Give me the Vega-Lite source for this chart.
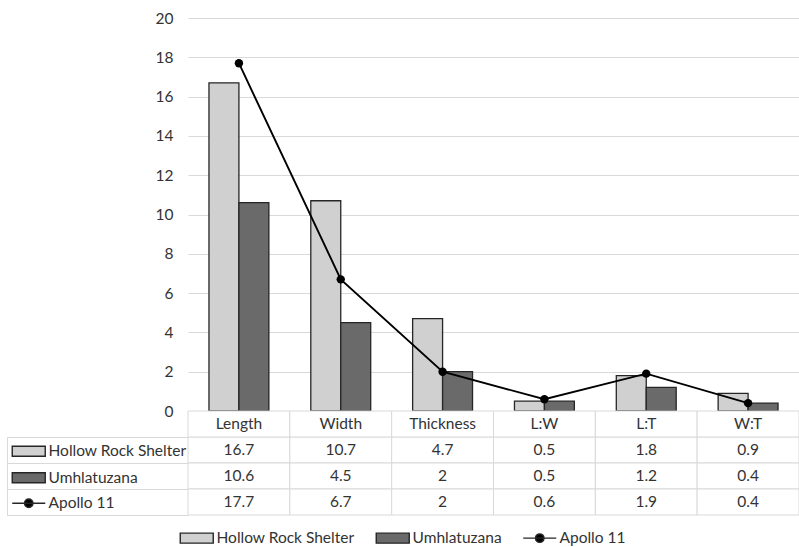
{
  "$schema": "https://vega.github.io/schema/vega-lite/v6.json",
  "autosize": {"type": "pad"},
  "padding": {"left": 6, "top": 11, "right": 0, "bottom": 0},
  "background": "white",
  "config": {"view": {"stroke": null}, "font": "Lato", "concat": {"spacing": 0}, "axisY": {"labelOverlap": false}},
  "datasets": {
    "vals": [
      {"cat": "Length", "series": "Hollow Rock Shelter", "value": 16.7},
      {"cat": "Length", "series": "Umhlatuzana", "value": 10.6},
      {"cat": "Length", "series": "Apollo 11", "value": 17.7},
      {"cat": "Width", "series": "Hollow Rock Shelter", "value": 10.7},
      {"cat": "Width", "series": "Umhlatuzana", "value": 4.5},
      {"cat": "Width", "series": "Apollo 11", "value": 6.7},
      {"cat": "Thickness", "series": "Hollow Rock Shelter", "value": 4.7},
      {"cat": "Thickness", "series": "Umhlatuzana", "value": 2},
      {"cat": "Thickness", "series": "Apollo 11", "value": 2},
      {"cat": "L:W", "series": "Hollow Rock Shelter", "value": 0.5},
      {"cat": "L:W", "series": "Umhlatuzana", "value": 0.5},
      {"cat": "L:W", "series": "Apollo 11", "value": 0.6},
      {"cat": "L:T", "series": "Hollow Rock Shelter", "value": 1.8},
      {"cat": "L:T", "series": "Umhlatuzana", "value": 1.2},
      {"cat": "L:T", "series": "Apollo 11", "value": 1.9},
      {"cat": "W:T", "series": "Hollow Rock Shelter", "value": 0.9},
      {"cat": "W:T", "series": "Umhlatuzana", "value": 0.4},
      {"cat": "W:T", "series": "Apollo 11", "value": 0.4}
    ],
    "cats": [
      {"cat": "Length"}, {"cat": "Width"}, {"cat": "Thickness"},
      {"cat": "L:W"}, {"cat": "L:T"}, {"cat": "W:T"}
    ]
  },
  "bounds": "flush",
  "resolve": {"scale": {"color": "independent"}, "legend": {"color": "independent"}},
  "vconcat": [
    {
      "width": 611,
      "height": 393,
      "data": {"name": "vals"},
      "resolve": {"scale": {"color": "independent"}},
      "encoding": {
        "x": {"field": "cat", "type": "nominal", "sort": ["Length", "Width", "Thickness", "L:W", "L:T", "W:T"],
              "scale": {"paddingInner": 0, "paddingOuter": 0}, "axis": null},
        "y": {"field": "value", "type": "quantitative",
              "scale": {"domain": [0, 20], "nice": false},
              "axis": {"values": [0, 2, 4, 6, 8, 10, 12, 14, 16, 18, 20], "grid": true, "gridColor": "#d9d9d9",
                       "domain": false, "ticks": false, "labelPadding": 15, "labelFont": "Lato", "labelOverlap": false,
                       "labelFontSize": 15.5, "labelColor": "#333333", "title": null}}
      },
      "layer": [
        {
          "transform": [{"filter": "datum.series !== 'Apollo 11'"}],
          "mark": {"type": "bar", "stroke": "#262626", "strokeWidth": 1.3},
          "encoding": {
            "xOffset": {"field": "series", "type": "nominal", "sort": ["Hollow Rock Shelter", "Umhlatuzana"],
                        "scale": {"paddingInner": 0, "paddingOuter": 0.7}},
            "color": {"field": "series", "type": "nominal",
                      "scale": {"domain": ["Hollow Rock Shelter", "Umhlatuzana"], "range": ["#d0d0d0", "#6a6a6a"]},
                      "legend": null}
          }
        },
        {
          "transform": [{"filter": "datum.series === 'Apollo 11'"}],
          "mark": {"type": "line", "color": "#000000", "strokeWidth": 1.9}
        },
        {
          "transform": [{"filter": "datum.series === 'Apollo 11'"}],
          "mark": {"type": "point", "filled": true, "color": "#000000", "size": 70, "opacity": 1}
        },
        {
          "mark": {"type": "point", "filled": true, "size": 0, "opacity": 0},
          "encoding": {
            "color": {"field": "series", "type": "nominal",
                      "scale": {"domain": ["Hollow Rock Shelter", "Umhlatuzana", "Apollo 11"], "range": ["#d0d0d0", "#6a6a6a", "#000000"]},
                      "legend": {"orient": "none", "legendX": 1, "legendY": 512, "direction": "horizontal", "title": null,
                                 "symbolSize": 100, "labelOffset": 12, "columnPadding": 18, "padding": 0,
                                 "labelFont": "Lato", "labelFontSize": 15.5, "labelColor": "#333333",
                                 "encode": {"symbols": {"update": {
                                   "shape": {"signal": "datum.value === 'Apollo 11' ? 'M-3.3,0H3.3M0.85,0A0.85,0.85 0 1,1 -0.85,0A0.85,0.85 0 1,1 0.85,0Z' : 'M-3.3,-1H3.3V1H-3.3Z'"},
                                   "size": {"value": 100},
                                   "fill": {"signal": "datum.value === 'Hollow Rock Shelter' ? '#d0d0d0' : datum.value === 'Umhlatuzana' ? '#6a6a6a' : '#000000'"},
                                   "stroke": {"value": "#262626"},
                                   "strokeWidth": {"value": 1.4},
                                   "opacity": {"value": 1}, "fillOpacity": {"value": 1}, "strokeOpacity": {"value": 1}
                                 }}}}}
          }
        }
      ]
    },
    {
      "width": 611,
      "height": 104,
      "encoding": {
        "x": {"field": "cat", "type": "nominal", "sort": ["Length", "Width", "Thickness", "L:W", "L:T", "W:T"],
              "scale": {"paddingInner": 0, "paddingOuter": 0}, "axis": null}
      },
      "layer": [
        {
          "data": {"name": "vals"},
          "mark": {"type": "rect", "fill": "white", "stroke": "#d9d9d9", "strokeWidth": 1},
          "encoding": {
            "y": {"field": "series", "type": "nominal",
                  "scale": {"domain": ["Header", "Hollow Rock Shelter", "Umhlatuzana", "Apollo 11"], "paddingInner": 0, "paddingOuter": 0},
                  "axis": {"orient": "left", "offset": 181, "labels": false, "title": null, "ticks": true, "tickSize": -181,
                           "tickColor": "#d9d9d9", "bandPosition": 1, "domainColor": "#d9d9d9", "domainDash": [0, 26, 78, 0], "grid": false}}
          }
        },
        {
          "data": {"name": "cats"},
          "mark": {"type": "rect", "fill": "white", "stroke": "#d9d9d9", "strokeWidth": 1},
          "encoding": {"y": {"datum": "Header", "type": "nominal"}}
        },
        {
          "data": {"name": "vals"},
          "mark": {"type": "text", "font": "Lato", "fontSize": 15.5, "color": "#333333"},
          "encoding": {
            "y": {"field": "series", "type": "nominal"},
            "text": {"field": "value", "type": "nominal"}
          }
        },
        {
          "data": {"name": "cats"},
          "mark": {"type": "text", "font": "Lato", "fontSize": 15.5, "color": "#333333"},
          "encoding": {
            "y": {"datum": "Header", "type": "nominal"},
            "text": {"field": "cat", "type": "nominal"}
          }
        },
        {
          "data": {"name": "vals"},
          "mark": {"type": "point", "filled": true, "size": 0, "opacity": 0},
          "encoding": {
            "color": {"field": "series", "type": "nominal",
                      "scale": {"domain": ["Hollow Rock Shelter", "Umhlatuzana", "Apollo 11"], "range": ["#d0d0d0", "#6a6a6a", "#000000"]},
                      "legend": {"orient": "none", "legendX": -167, "legendY": 32.5, "direction": "vertical", "title": null,
                                 "symbolSize": 100, "labelOffset": 12, "rowPadding": 8.5, "padding": 0,
                                 "labelFont": "Lato", "labelFontSize": 15.5, "labelColor": "#333333",
                                 "encode": {"symbols": {"update": {
                                   "shape": {"signal": "datum.value === 'Apollo 11' ? 'M-3.3,0H3.3M0.85,0A0.85,0.85 0 1,1 -0.85,0A0.85,0.85 0 1,1 0.85,0Z' : 'M-3.3,-1H3.3V1H-3.3Z'"},
                                   "size": {"value": 100},
                                   "fill": {"signal": "datum.value === 'Hollow Rock Shelter' ? '#d0d0d0' : datum.value === 'Umhlatuzana' ? '#6a6a6a' : '#000000'"},
                                   "stroke": {"value": "#262626"},
                                   "strokeWidth": {"value": 1.4},
                                   "opacity": {"value": 1}, "fillOpacity": {"value": 1}, "strokeOpacity": {"value": 1}
                                 }}}}}
          }
        }
      ]
    }
  ]
}
